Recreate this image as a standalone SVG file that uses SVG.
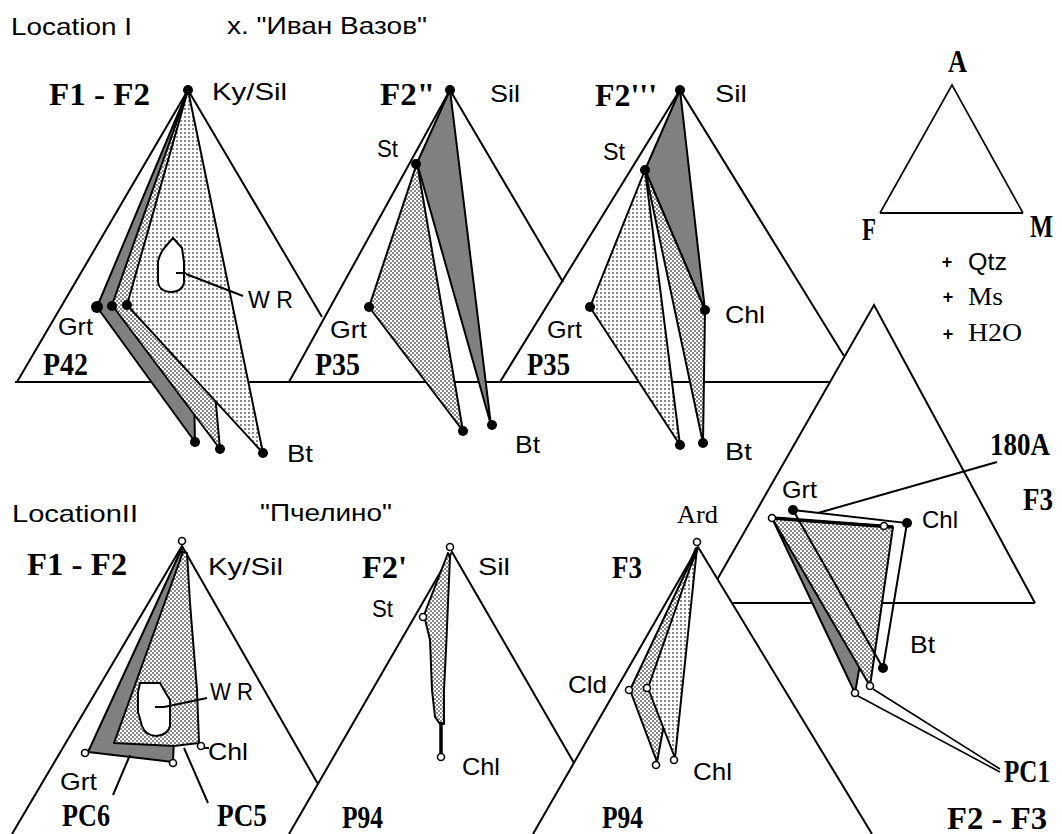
<svg xmlns="http://www.w3.org/2000/svg" width="1062" height="834" viewBox="0 0 1062 834">
<defs>
  <pattern id="checker" width="4" height="4" patternUnits="userSpaceOnUse">
    <rect width="4" height="4" fill="#fff"/>
    <rect width="2" height="2" fill="#8a8a8a"/>
    <rect x="2" y="2" width="2" height="2" fill="#8a8a8a"/>
  </pattern>
  <pattern id="dots" width="4" height="4" patternUnits="userSpaceOnUse">
    <rect width="4" height="4" fill="#fff"/>
    <rect width="2" height="2" fill="#8a8a8a"/>
  </pattern>
</defs>
<style>
  .ln{fill:none;stroke:#000;stroke-width:2}
  .thin{fill:none;stroke:#000;stroke-width:1.6}
  .tie{stroke:#000;stroke-width:2;stroke-linejoin:round}
  .dark{fill:#808080}
  .chk{fill:url(#checker)}
  .dot{fill:url(#dots)}
  .blob{fill:#fff;stroke:#000;stroke-width:2}
  .pt{fill:#000}
  .op{fill:#fff;stroke:#000;stroke-width:1.6}
  .s{font-family:"Liberation Sans",Arial,sans-serif;font-size:24px}
  .b{font-family:"Liberation Serif","Times New Roman",serif;font-weight:bold;font-size:32px}
  .r{font-family:"Liberation Serif","Times New Roman",serif;font-size:26px}
</style>
<rect width="1062" height="834" fill="#fff"/>

<!-- headings -->
<g id="headings">
  <text class="s" x="11" y="35" font-size="23" textLength="121" lengthAdjust="spacingAndGlyphs">Location I</text>
  <text class="s" x="227" y="34" font-size="23" textLength="200" lengthAdjust="spacingAndGlyphs">х. "Иван Вазов"</text>
  <text class="s" x="12" y="522" font-size="23" textLength="126" lengthAdjust="spacingAndGlyphs">LocationII</text>
  <text class="s" x="260" y="521" font-size="23" textLength="132" lengthAdjust="spacingAndGlyphs">"Пчелино"</text>
</g>

<!-- triangle frames -->
<g id="frames">
  <line class="ln" x1="15" y1="382" x2="831" y2="382"/>
  <polyline class="ln" points="17,382 188,90 322,317"/>
  <polyline class="ln" points="289,382 450,90 563,282"/>
  <polyline class="ln" points="500,382 680,90 844,356"/>
  <polyline class="ln" points="717.5,579 874,305 1035,603"/>
  <line class="ln" x1="732" y1="603" x2="1035" y2="603"/>
  <polyline class="ln" points="12,834 182,546 318,784"/>
  <polyline class="ln" points="289,834 452,552 574,763"/>
  <polyline class="ln" points="533,834 698,547 872,834"/>
</g>

<!-- legend triangle -->
<g id="legend">
  <polyline class="thin" points="880,213 952,85 1023,213"/>
  <line class="ln" x1="880" y1="213" x2="1023" y2="213"/>
  <text class="b" x="948" y="72" font-size="26" textLength="19" lengthAdjust="spacingAndGlyphs">A</text>
  <text class="b" x="862" y="240" font-size="28" textLength="14" lengthAdjust="spacingAndGlyphs">F</text>
  <text class="b" x="1030" y="237" font-size="26" textLength="23" lengthAdjust="spacingAndGlyphs">M</text>
  <text class="s"><tspan x="947" y="268" font-size="18" font-weight="bold" text-anchor="middle">+</tspan><tspan x="968" y="270" textLength="39" lengthAdjust="spacingAndGlyphs">Qtz</tspan></text>
  <text class="r"><tspan x="948" y="303" font-family="Liberation Sans, sans-serif" font-size="18" font-weight="bold" text-anchor="middle">+</tspan><tspan x="968" y="305" textLength="35" lengthAdjust="spacingAndGlyphs">Ms</tspan></text>
  <text class="r"><tspan x="948" y="340" font-family="Liberation Sans, sans-serif" font-size="18" font-weight="bold" text-anchor="middle">+</tspan><tspan x="968" y="341" textLength="54" lengthAdjust="spacingAndGlyphs">H2O</tspan></text>
</g>

<!-- Location I, F1 - F2, P42 -->
<g id="panel-p42">
  <polygon class="tie dark" points="188,90 97,307 195,442"/>
  <polygon class="tie chk" points="188,90 112,305 220,449"/>
  <polygon class="tie dot" points="188,90 127,305 263,453"/>
  <path class="blob" d="M173,238 L182,248 L184,262 L184,283 Q182,292 170,292 Q159,291 158,282 L158,262 Q160,252 166,246 Z"/>
  <line class="ln" x1="176" y1="273" x2="186" y2="273"/>
  <circle class="pt" cx="188" cy="90" r="5"/>
  <circle class="pt" cx="97" cy="307" r="6"/>
  <circle class="pt" cx="112" cy="306" r="5"/>
  <circle class="pt" cx="127" cy="305" r="5"/>
  <circle class="pt" cx="195" cy="442" r="5"/>
  <circle class="pt" cx="220" cy="449" r="5"/>
  <circle class="pt" cx="263" cy="453" r="5"/>
  <text class="b" x="49" y="105" textLength="101" lengthAdjust="spacingAndGlyphs">F1 - F2</text>
  <text class="s" x="212" y="100" textLength="75" lengthAdjust="spacingAndGlyphs">Ky/Sil</text>
  <text class="s" x="58" y="335" textLength="35" lengthAdjust="spacingAndGlyphs">Grt</text>
  <text class="b" x="43" y="375" textLength="45" lengthAdjust="spacingAndGlyphs">P42</text>
  <text class="s" x="248" y="308" textLength="45" lengthAdjust="spacingAndGlyphs">W R</text>
  <text class="s" x="287" y="462" textLength="26" lengthAdjust="spacingAndGlyphs">Bt</text>
</g>

<!-- F2'', P35 -->
<g id="panel-p35-a">
  <polygon class="tie chk" points="417,163 369,307 463,431"/>
  <polygon class="tie dark" points="450,90 417,163 491,425"/>
  <circle class="pt" cx="450" cy="90" r="5"/>
  <circle class="pt" cx="416" cy="164" r="5"/>
  <circle class="pt" cx="369" cy="307" r="5"/>
  <circle class="pt" cx="463" cy="431" r="5"/>
  <circle class="pt" cx="492" cy="425" r="5"/>
  <text class="b" x="380" y="105" textLength="55" lengthAdjust="spacingAndGlyphs">F2"</text>
  <text class="s" x="490" y="102" textLength="30" lengthAdjust="spacingAndGlyphs">Sil</text>
  <text class="s" x="377" y="157" textLength="21" lengthAdjust="spacingAndGlyphs">St</text>
  <text class="s" x="330" y="338" textLength="37" lengthAdjust="spacingAndGlyphs">Grt</text>
  <text class="b" x="315" y="375" textLength="45" lengthAdjust="spacingAndGlyphs">P35</text>
  <text class="s" x="515" y="453" textLength="25" lengthAdjust="spacingAndGlyphs">Bt</text>
</g>

<!-- F2''', P35 -->
<g id="panel-p35-b">
  <polygon class="tie dark" points="680,90 645,170 705,310"/>
  <polygon class="tie chk" points="645,170 705,310 703,443"/>
  <polygon class="tie dot" points="645,170 590,307 680,445"/>
  <circle class="pt" cx="680" cy="90" r="5"/>
  <circle class="pt" cx="645" cy="170" r="5"/>
  <circle class="pt" cx="590" cy="307" r="5"/>
  <circle class="pt" cx="705" cy="310" r="5"/>
  <circle class="pt" cx="680" cy="445" r="5"/>
  <circle class="pt" cx="703" cy="443" r="5"/>
  <text class="b" x="595" y="106" textLength="62" lengthAdjust="spacingAndGlyphs">F2'''</text>
  <text class="s" x="715" y="102" textLength="32" lengthAdjust="spacingAndGlyphs">Sil</text>
  <text class="s" x="603" y="160" textLength="22" lengthAdjust="spacingAndGlyphs">St</text>
  <text class="s" x="547" y="338" textLength="35" lengthAdjust="spacingAndGlyphs">Grt</text>
  <text class="b" x="527" y="375" textLength="43" lengthAdjust="spacingAndGlyphs">P35</text>
  <text class="s" x="725" y="323" textLength="40" lengthAdjust="spacingAndGlyphs">Chl</text>
  <text class="s" x="725" y="460" textLength="27" lengthAdjust="spacingAndGlyphs">Bt</text>
</g>

<!-- F3 / F2 - F3, 180A and PC1 -->
<g id="panel-f3-180a">
  <polygon class="tie dark" points="772,518 884,526 855,693" stroke-width="2.5"/>
  <polygon class="tie chk" points="772,518 893,527 870,686"/>
  <line x1="772" y1="518" x2="893" y2="527" stroke="#000" stroke-width="3.5"/>
  <polygon points="793,510 907,523 883,668" fill="none" stroke="#000" stroke-width="2"/>
  <circle class="pt" cx="793" cy="510" r="5"/>
  <circle class="pt" cx="907" cy="523" r="5"/>
  <circle class="pt" cx="883" cy="668" r="5"/>
  <circle class="op" cx="772" cy="518" r="3.5"/>
  <circle class="op" cx="884" cy="526" r="3.5"/>
  <circle class="op" cx="855" cy="693" r="3.5"/>
  <circle class="op" cx="870" cy="686" r="3.5"/>
  <text class="s" x="782" y="498" textLength="35" lengthAdjust="spacingAndGlyphs">Grt</text>
  <text class="s" x="922" y="528" textLength="36" lengthAdjust="spacingAndGlyphs">Chl</text>
  <text class="s" x="910" y="653" textLength="25" lengthAdjust="spacingAndGlyphs">Bt</text>
  <text class="b" x="990" y="455" font-size="28" textLength="60" lengthAdjust="spacingAndGlyphs">180A</text>
  <text class="b" x="1023" y="510" textLength="30" lengthAdjust="spacingAndGlyphs">F3</text>
  <text class="b" x="1004" y="782" font-size="28" textLength="46" lengthAdjust="spacingAndGlyphs">PC1</text>
  <text class="b" x="947" y="829" textLength="100" lengthAdjust="spacingAndGlyphs">F2 - F3</text>
</g>

<!-- Location II, F1 - F2, PC6 / PC5 -->
<g id="panel-pc6-pc5">
  <polygon class="tie dark" points="182,548 88,752 173,762"/>
  <polygon class="tie chk" points="183,552 114,743 174,746 199,743 197,690 190,603 187,553"/>
  <path class="blob" d="M140,683 L160,683 L164,690 L170,700 L170,726 Q168,735 156,736 Q145,735 142,726 L138,712 L138,692 Z"/>
  <line class="ln" x1="155" y1="707" x2="164" y2="707"/>
  <circle class="op" cx="182" cy="541" r="3.5"/>
  <circle class="op" cx="85" cy="753" r="3.5"/>
  <circle class="op" cx="173" cy="763" r="3.5"/>
  <circle class="op" cx="201" cy="746" r="3.5"/>
  <text class="b" x="27" y="575" textLength="100" lengthAdjust="spacingAndGlyphs">F1 - F2</text>
  <text class="s" x="208" y="575" textLength="75" lengthAdjust="spacingAndGlyphs">Ky/Sil</text>
  <text class="s" x="210" y="700" textLength="43" lengthAdjust="spacingAndGlyphs">W R</text>
  <text class="s" x="208" y="760" textLength="40" lengthAdjust="spacingAndGlyphs">Chl</text>
  <text class="s" x="60" y="790" textLength="37" lengthAdjust="spacingAndGlyphs">Grt</text>
  <text class="b" x="62" y="826" textLength="48" lengthAdjust="spacingAndGlyphs">PC6</text>
  <text class="b" x="217" y="826" textLength="50" lengthAdjust="spacingAndGlyphs">PC5</text>
</g>

<!-- F2', P94 -->
<g id="panel-p94-a">
  <polygon class="tie chk" points="448,553 424,615 430,640 432,690 435,717 440,724 444,724 444,690 446,650 450,557"/>
  <line x1="441" y1="722" x2="441" y2="753" stroke="#000" stroke-width="3.5"/>
  <circle class="op" cx="450" cy="547" r="3.5"/>
  <circle class="op" cx="423" cy="617" r="3.5"/>
  <circle class="op" cx="441" cy="757" r="3.5"/>
  <text class="b" x="362" y="578" textLength="45" lengthAdjust="spacingAndGlyphs">F2'</text>
  <text class="s" x="478" y="575" textLength="32" lengthAdjust="spacingAndGlyphs">Sil</text>
  <text class="s" x="372" y="617" textLength="21" lengthAdjust="spacingAndGlyphs">St</text>
  <text class="s" x="462" y="775" textLength="38" lengthAdjust="spacingAndGlyphs">Chl</text>
  <text class="b" x="342" y="828" textLength="41" lengthAdjust="spacingAndGlyphs">P94</text>
</g>

<!-- F3, Ard, P94 -->
<g id="panel-p94-b">
  <polygon class="tie chk" points="697,548 630,690 657,762"/>
  <polygon class="tie dot" points="697,548 648,688 675,758"/>
  <line x1="697" y1="548" x2="690" y2="565" stroke="#000" stroke-width="4"/>
  <circle class="op" cx="697" cy="542" r="3.5"/>
  <circle class="op" cx="629" cy="690" r="3.5"/>
  <circle class="op" cx="647" cy="688" r="3.5"/>
  <circle class="op" cx="656" cy="765" r="3.5"/>
  <circle class="op" cx="674" cy="760" r="3.5"/>
  <text class="r" x="677" y="523" textLength="41" lengthAdjust="spacingAndGlyphs">Ard</text>
  <text class="b" x="612" y="578" textLength="30" lengthAdjust="spacingAndGlyphs">F3</text>
  <text class="s" x="568" y="693" textLength="39" lengthAdjust="spacingAndGlyphs">Cld</text>
  <text class="s" x="693" y="780" textLength="39" lengthAdjust="spacingAndGlyphs">Chl</text>
  <text class="b" x="602" y="828" textLength="41" lengthAdjust="spacingAndGlyphs">P94</text>
</g>

<!-- label leaders -->
<g id="connectors">
  <line class="ln" x1="186" y1="274" x2="243" y2="296"/>
  <line class="ln" x1="818" y1="513" x2="997" y2="462"/>
  <line class="thin" x1="858" y1="696" x2="1000" y2="772"/>
  <line class="thin" x1="873" y1="689" x2="1000" y2="769"/>
  <line class="ln" x1="164" y1="707" x2="207" y2="698"/>
  <line class="ln" x1="204" y1="748" x2="209" y2="748"/>
  <line class="ln" x1="130" y1="755" x2="113" y2="795"/>
  <line class="ln" x1="184" y1="748" x2="208" y2="803"/>
</g>
</svg>
